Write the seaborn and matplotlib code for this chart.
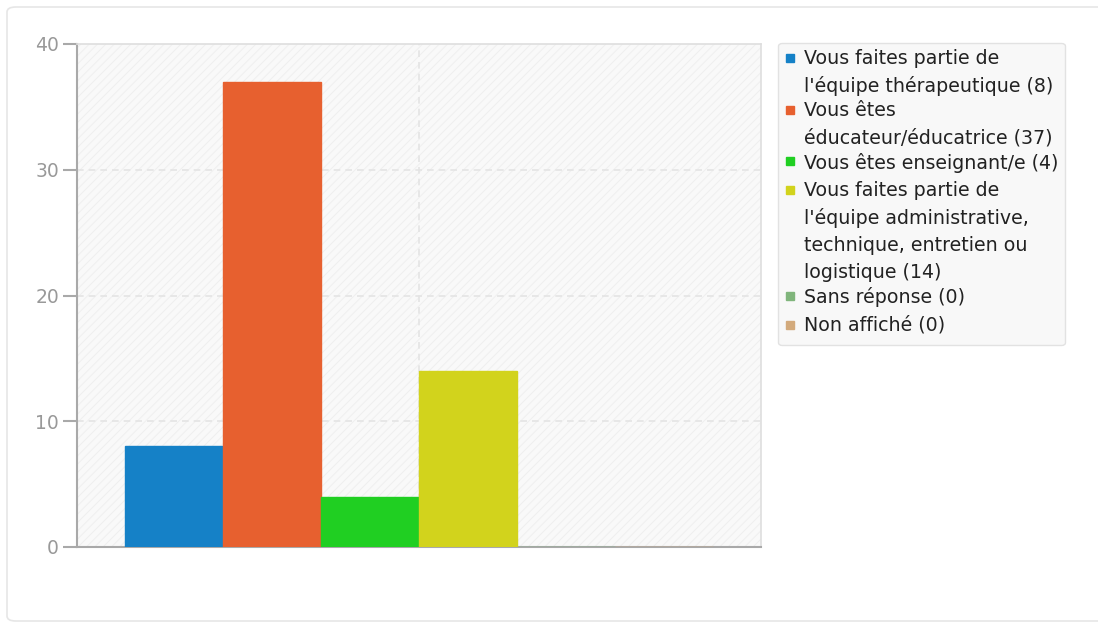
import matplotlib
matplotlib.use("Agg")
import matplotlib.pyplot as plt
import numpy as np
import pandas as pd
import seaborn as sns
from matplotlib.patches import Rectangle, FancyBboxPatch
from matplotlib.lines import Line2D

# Data
reponses = [
    "Vous faites partie de\nl'équipe thérapeutique (8)",
    "Vous êtes\néducateur/éducatrice (37)",
    "Vous êtes enseignant/e (4)",
    "Vous faites partie de\nl'équipe administrative,\ntechnique, entretien ou\nlogistique (14)",
    "Sans réponse (0)",
    "Non affiché (0)",
]
effectifs = [8, 37, 4, 14, 0, 0]
couleurs = ["#1581c7", "#e7602f", "#20cf22", "#d2d31c", "#80b57c", "#d3aa7c"]
yticks = [0, 10, 20, 30, 40]

df = pd.DataFrame({"question": [""] * len(reponses),
                   "reponse": reponses,
                   "effectif": effectifs})

sns.set_style("white")
plt.rcParams['font.family'] = ['DejaVu Sans']
plt.rcParams['hatch.linewidth'] = 0.7

fig = plt.figure(figsize=(10.98, 6.28), dpi=100)

# outer card
card = FancyBboxPatch((7 / 1098, 7 / 628), 1.2, 1 - 14 / 628,
                      boxstyle="round,pad=0,rounding_size=0.008",
                      transform=fig.transFigure, facecolor="white",
                      edgecolor="#e6e6e6", linewidth=1.2, zorder=-5)
fig.patches.append(card)

ax = fig.add_axes([77 / 1098, 1 - 547 / 628, 684 / 1098, 503 / 628])
ax.set_facecolor("none")

# hatched background
bg = Rectangle((0, 0), 1, 1, transform=ax.transAxes, facecolor="#f9f9f9",
               edgecolor="#efefef", hatch="////", linewidth=0, zorder=0)
ax.add_patch(bg)

sns.barplot(data=df, x="question", y="effectif", hue="reponse",
            hue_order=reponses, palette=couleurs, width=0.86,
            legend=False, ax=ax, zorder=3, saturation=1,
            linewidth=1, edgecolor="none")

# zero bars show as thin coloured line
for patch, c in zip(ax.patches[1:], couleurs):
    patch.set_edgecolor(c)
    patch.set_alpha(1)

ax.set_xlim(-0.5, 0.5)
ax.set_ylim(0, 40)
ax.set_yticks(yticks)
ax.set_xticks([])
ax.set_xlabel("")
ax.set_ylabel("")

for y in yticks[1:-1]:
    ax.axhline(y, color="#e4e4e4", linestyle=(0, (4, 3)), linewidth=1.2, zorder=1)
ax.axvline(0, color="#e4e4e4", linestyle=(0, (4, 3)), linewidth=1.2, zorder=1)

for s in ["left", "bottom"]:
    ax.spines[s].set_color("#a9a9a9")
    ax.spines[s].set_linewidth(1.5)
for s in ["top", "right"]:
    ax.spines[s].set_color("#dedede")
    ax.spines[s].set_linewidth(1.2)
    ax.spines[s].set_visible(True)

ax.tick_params(axis="y", left=True, length=10, width=1.5, color="#a9a9a9",
               labelsize=13.5, labelcolor="#999999", pad=3)

handles = [Line2D([0], [0], marker="s", linestyle="none", markersize=5.5,
                  markerfacecolor=c, markeredgecolor=c) for c in couleurs]
leg = fig.legend(handles, reponses, loc="upper left",
                 bbox_to_anchor=(778 / 1098, 1 - 42.5 / 628),
                 bbox_transform=fig.transFigure, frameon=True, fancybox=True,
                 shadow=False, fontsize=13.7, handlelength=0.6,
                 handleheight=1.5, handletextpad=0.45, labelspacing=0.28,
                 borderpad=0.33, borderaxespad=0)
frame = leg.get_frame()
frame.set_facecolor("#f8f8f8")
frame.set_edgecolor("#e2e2e2")
frame.set_alpha(1)
for t in leg.get_texts():
    t.set_color("#222222")
    t.set_linespacing(1.52)
# markers next to the first line of each entry
for col in leg._legend_handle_box.get_children():
    for item in col.get_children():
        item.align = "top"

fig.savefig("out.png", dpi=100)
